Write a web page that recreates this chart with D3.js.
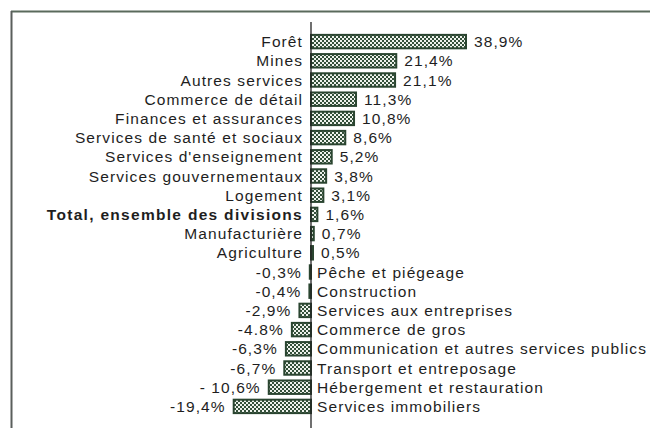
<!DOCTYPE html>
<html><head><meta charset="utf-8">
<script src="https://cdn.jsdelivr.net/npm/d3@7"></script>
<style>
html,body{margin:0;padding:0;background:#fff;}
svg text{font-family:"Liberation Sans",Arial,sans-serif;}
</style></head>
<body><svg id="c" width="650" height="428"></svg>
<script>
const categories = ["Forêt","Mines","Autres services","Commerce de détail","Finances et assurances","Services de santé et sociaux","Services d'enseignement","Services gouvernementaux","Logement","Total, ensemble des divisions","Manufacturière","Agriculture","Pêche et piégeage","Construction","Services aux entreprises","Commerce de gros","Communication et autres services publics","Transport et entreposage","Hébergement et restauration","Services immobiliers"];
const values = [38.9,21.4,21.1,11.3,10.8,8.6,5.2,3.8,3.1,1.6,0.7,0.5,-0.3,-0.4,-2.9,-4.8,-6.3,-6.7,-10.6,-19.4];
const valueLabels = ["38,9%","21,4%","21,1%","11,3%","10,8%","8,6%","5,2%","3,8%","3,1%","1,6%","0,7%","0,5%","-0,3%","-0,4%","-2,9%","-4.8%","-6,3%","-6,7%","- 10,6%","-19,4%"];
const boldCategory = "Total, ensemble des divisions";

const svg = d3.select("#c");
const x = d3.scaleLinear().domain([0,38.9]).range([311,466]);
const y = d3.scaleBand().domain(categories).range([32,416]).paddingInner(0.3).paddingOuter(0.15);

const defs = svg.append("defs");
const pat = defs.append("pattern").attr("id","hatch").attr("patternUnits","userSpaceOnUse").attr("width",4).attr("height",4);
pat.append("rect").attr("width",4).attr("height",4).attr("fill","#34503a");
pat.append("rect").attr("x",0).attr("y",0).attr("width",2).attr("height",2).attr("fill","#eef2ec");
pat.append("rect").attr("x",2).attr("y",2).attr("width",2).attr("height",2).attr("fill","#eef2ec");

// frame
svg.append("line").attr("x1",11).attr("x2",650).attr("y1",11.5).attr("y2",11.5).attr("stroke","#5a6a5c").attr("stroke-width",2);
svg.append("line").attr("x1",11.5).attr("x2",11.5).attr("y1",11).attr("y2",428).attr("stroke","#5a5f5c").attr("stroke-width",2);

// bars
svg.selectAll("rect.bar").data(categories).join("rect").attr("class","bar")
  .attr("x",(d,i)=>Math.min(x(0),x(values[i])))
  .attr("width",(d,i)=>Math.abs(x(values[i])-x(0)))
  .attr("y",d=>y(d)).attr("height",y.bandwidth())
  .attr("fill","url(#hatch)").attr("stroke","#2a4530").attr("stroke-width",2);

// axis
svg.append("line").attr("x1",x(0)).attr("x2",x(0)).attr("y1",22).attr("y2",428).attr("stroke","#222").attr("stroke-width",1.3);

const fs = 15.5;
const g = svg.append("g");
categories.forEach((c,i)=>{
  const v = values[i], cy = y(c)+y.bandwidth()/2 + 5.5;
  const pos = v>=0;
  const bold = c===boldCategory;
  g.append("text").attr("x", pos ? x(0)-8 : x(0)+6).attr("y",cy)
    .attr("text-anchor", pos ? "end":"start")
    .attr("font-size",fs).attr("letter-spacing",bold?1.3:1.1).attr("fill","#1e1e1e")
    .attr("font-weight", bold ? "bold":"normal")
    .text(c);
  g.append("text").attr("x", pos ? x(v)+8 : x(v)-8).attr("y",cy)
    .attr("text-anchor", pos ? "start":"end")
    .attr("font-size",fs).attr("letter-spacing",1.1).attr("fill","#1e1e1e")
    .text(valueLabels[i]);
});
</script></body></html>
